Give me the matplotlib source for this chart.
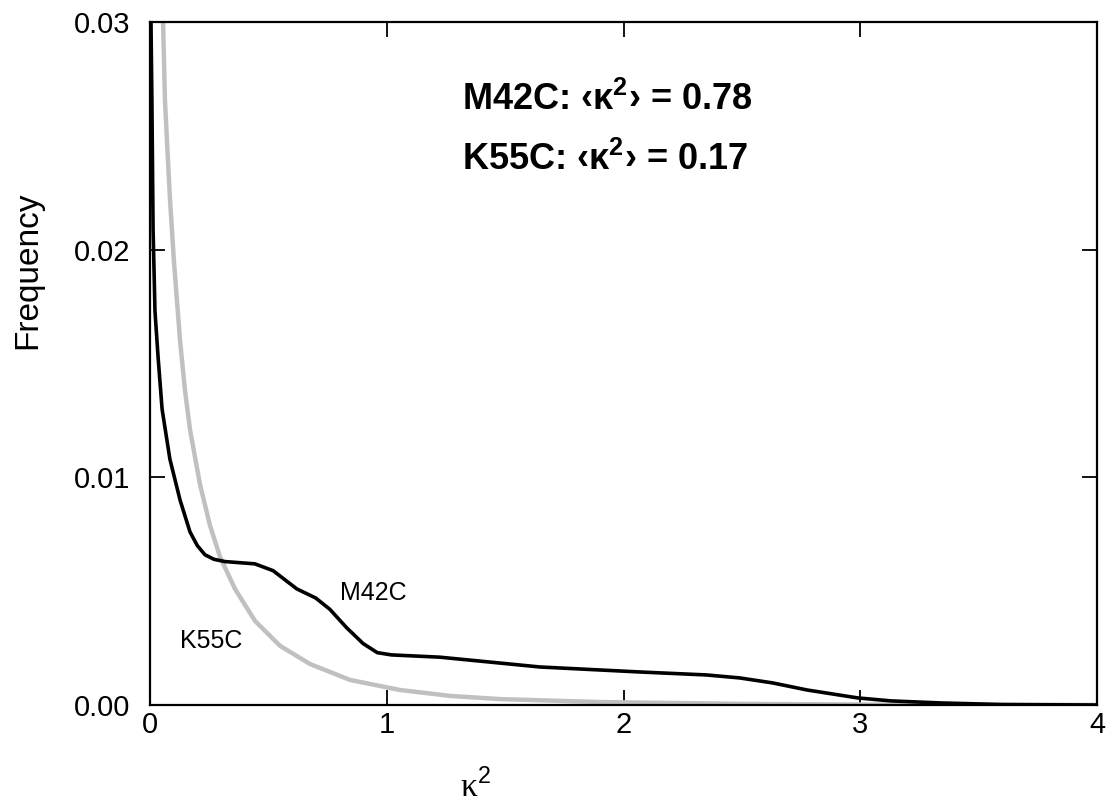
import matplotlib
matplotlib.use("Agg")
import matplotlib.pyplot as plt

# M42C distribution (black)
m42c_x = [0.003, 0.008, 0.013, 0.021, 0.034, 0.051, 0.084, 0.127, 0.169, 0.20, 0.232,
          0.27, 0.317, 0.38, 0.443, 0.52, 0.57, 0.62, 0.70, 0.76, 0.83, 0.90, 0.96, 1.02,
          1.225, 1.647, 2.07, 2.35, 2.49, 2.63, 2.775, 2.99, 3.13, 3.34, 3.6, 4.0]
m42c_y = [0.031, 0.0266, 0.0209, 0.0173, 0.0153, 0.0130, 0.0108, 0.0090, 0.0076, 0.0070, 0.0066,
          0.0064, 0.0063, 0.00625, 0.0062, 0.0059, 0.0055, 0.0051, 0.0047, 0.0042, 0.0034, 0.0027, 0.0023, 0.0022,
          0.0021, 0.00167, 0.00145, 0.00132, 0.00119, 0.00097, 0.00066, 0.00031, 0.00018, 0.00009, 0.00002, 0.0]

# K55C distribution (gray)
k55c_x = [0.053, 0.063, 0.076, 0.0845, 0.101, 0.127, 0.148, 0.169, 0.211, 0.253, 0.296,
          0.359, 0.443, 0.549, 0.676, 0.845, 1.056, 1.267, 1.478, 1.90, 2.5, 3.0, 4.0]
k55c_y = [0.031, 0.0266, 0.0239, 0.0222, 0.0195, 0.0160, 0.0138, 0.0121, 0.0097, 0.0079, 0.0065,
          0.0051, 0.0037, 0.0026, 0.0018, 0.0011, 0.00066, 0.0004, 0.00026, 0.00013, 0.00005, 0.00002, 0.0]

x_ticks = [0, 1, 2, 3, 4]
y_ticks = [0.00, 0.01, 0.02, 0.03]
y_tick_labels = ["0.00", "0.01", "0.02", "0.03"]

plt.rcParams['font.family'] = ['Liberation Sans', 'DejaVu Sans']
plt.rcParams['mathtext.fontset'] = 'custom'
plt.rcParams['mathtext.rm'] = 'Liberation Sans'
plt.rcParams['mathtext.bf'] = 'Liberation Sans:bold'

fig = plt.figure(figsize=(11.09, 8.07), dpi=100)
ax = fig.add_axes([150/1109, 1 - 705/807, (1097-150)/1109, (705-22)/807])

ax.plot(k55c_x, k55c_y, color='#c0c0c0', lw=3.2, solid_joinstyle='round', zorder=2)
ax.plot(m42c_x, m42c_y, color='black', lw=2.6, solid_joinstyle='round', zorder=3)

ax.set_xlim(0, 4)
ax.set_ylim(0, 0.03)
ax.set_xticks(x_ticks)
ax.set_xticklabels([str(t) for t in x_ticks])
ax.set_yticks(y_ticks)
ax.set_yticklabels(y_tick_labels)
ax.tick_params(direction='in', length=11, width=1.3, labelsize=21,
               top=True, right=True)
ax.tick_params(axis='x', pad=4)
ax.tick_params(axis='y', pad=14)
for s in ax.spines.values():
    s.set_linewidth(1.6)

fig.text(28/1109, 1 - 270/807, "Frequency", fontsize=24, rotation=90,
         ha='center', va='center')
fig.text(475/1109, 1 - 787/807, "κ$^2$", fontsize=24,
         family=['Liberation Serif', 'DejaVu Serif'], ha='center', va='center')

fig.text(462/1109, 1 - 100/807, "M42C: ‹κ$^{\\mathbf{2}}$› = 0.78", fontsize=26, fontweight='bold',
         ha='left', va='center')
fig.text(462/1109, 1 - 160/807, "K55C: ‹κ$^{\\mathbf{2}}$› = 0.17", fontsize=26, fontweight='bold',
         ha='left', va='center')

ax.text(0.945, 0.0049, "M42C", fontsize=18, ha='center', va='center')
ax.text(0.26, 0.0028, "K55C", fontsize=18, ha='center', va='center')

fig.savefig("out.png", dpi=100)
